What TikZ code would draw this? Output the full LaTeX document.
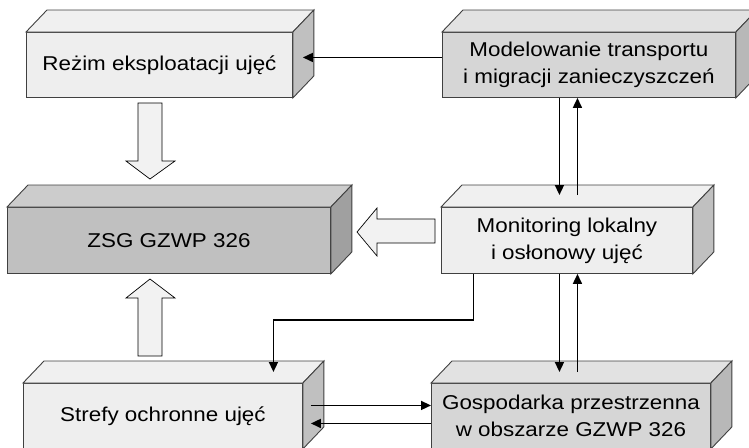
\documentclass[tikz,border=0pt]{standalone}
\usepackage{fontspec}
\setmainfont{Liberation Sans}
\usetikzlibrary{arrows.meta}
\definecolor{edge}{HTML}{404040}
\definecolor{lightF}{HTML}{EEEEEE}
\definecolor{lightT}{HTML}{F0F0F0}
\definecolor{lightS}{HTML}{C0C0C0}
\definecolor{midF}{HTML}{D6D6D6}
\definecolor{midT}{HTML}{E2E2E2}
\definecolor{midS}{HTML}{B8B8B8}
\definecolor{darkF}{HTML}{C0C0C0}
\definecolor{darkT}{HTML}{CCCCCC}
\definecolor{darkS}{HTML}{A0A0A0}
\definecolor{blockfill}{HTML}{F2F2F2}
\newcommand\sx[1]{\scalebox{1.12}[1]{#1}}
\newcommand\cubebox[9]{%
  % #1 name, #2 x1, #3 y1, #4 width, #5 height, #6 front, #7 top, #8 side, #9 text
  \node[face,fill=#6,minimum width=#4pt,minimum height=#5pt,anchor=north west] (#1) at (#2,#3) {#9};
  \draw[edgeline,fill=#7] (#1.north west) -- ++(21,-22) -- ([shift={(21pt,22pt)}]#1.north east) -- (#1.north east) -- cycle;
  \draw[edgeline,fill=#8] (#1.north east) -- ([shift={(21pt,22pt)}]#1.north east) -- ([shift={(21pt,22pt)}]#1.south east) -- (#1.south east) -- cycle;
}
\tikzset{
  face/.style={draw=edge,line width=0.9pt,inner sep=0pt,align=center,font=\fontsize{20}{27}\selectfont},
  edgeline/.style={draw=edge,line width=0.9pt,line join=miter},
  conn/.style={line width=1.6pt,-{Triangle[length=10pt,width=9pt]}},
  blockarrow/.style={draw=black,line width=0.7pt,fill=blockfill,line join=miter}
}
\begin{document}
\begin{tikzpicture}[x=1pt,y=-1pt]
\useasboundingbox (0,0) rectangle (749,447);
\cubebox{rez}{26}{32}{266}{65}{lightF}{lightT}{lightS}{\sx{Reżim eksploatacji ujęć}}
\cubebox{mod}{442}{32}{293}{65}{midF}{midT}{midS}{\sx{Modelowanie transportu}\\\sx{i migracji zanieczyszczeń}}
\cubebox{zsg}{7}{207}{323}{66}{darkF}{darkT}{darkS}{\sx{ZSG GZWP 326}}
\cubebox{mon}{441}{207}{251}{66}{lightF}{lightT}{lightS}{\sx{Monitoring lokalny}\\\sx{i osłonowy ujęć}}
\cubebox{str}{23}{383}{279}{65}{lightF}{lightT}{lightS}{\sx{Strefy ochronne ujęć}}
\cubebox{gos}{431}{383}{279}{65}{midF}{midT}{midS}{\sx{Gospodarka przestrzenna}\\\sx{w obszarze GZWP 326}}
% block arrows
\draw[blockarrow] (138,103) -- (162,103) -- (162,161) -- (175,161) -- (150,179) -- (126,161) -- (138,161) -- cycle;
\draw[blockarrow] (138,356) -- (162,356) -- (162,298) -- (175,298) -- (150,279) -- (126,298) -- (138,298) -- cycle;
\draw[blockarrow] (435,219) -- (377,219) -- (377,208) -- (357,232) -- (377,256) -- (377,243) -- (435,243) -- cycle;
% connectors
\draw[conn] ([yshift=7.5pt]mod.west) -- ([xshift=10pt,yshift=7.5pt]rez.east);
\draw[conn] ([xshift=-29.5pt]mod.south) -- ([xshift=-7.5pt,yshift=12pt]mon.north);
\draw[conn] ([xshift=10.5pt,yshift=12pt]mon.north) -- ([xshift=-11.5pt]mod.south);
\draw[conn] ([xshift=-7.5pt]mon.south) -- ([xshift=-11.5pt,yshift=11pt]gos.north);
\draw[conn] ([xshift=6.5pt,yshift=11pt]gos.north) -- ([xshift=10.5pt]mon.south);
\draw[conn] ([xshift=-93.5pt]mon.south) -- ++(0,46) -| ([xshift=110.5pt,yshift=11pt]str.north);
\draw[conn] ([xshift=8pt,yshift=10.5pt]str.east) -- ([yshift=10.5pt]gos.west);
\draw[conn] ([yshift=-7.5pt]gos.west) -- ([xshift=8pt,yshift=-7.5pt]str.east);
\end{tikzpicture}
\end{document}
